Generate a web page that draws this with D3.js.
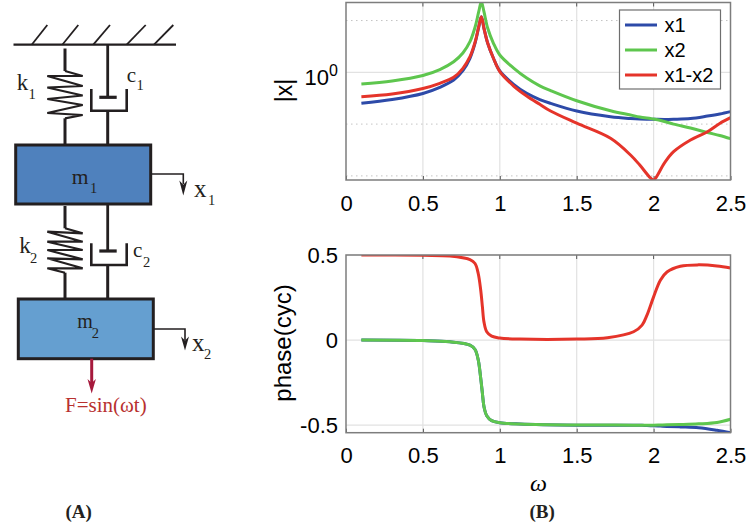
<!DOCTYPE html>
<html><head><meta charset="utf-8">
<script src="https://cdn.jsdelivr.net/npm/d3@7"></script>
<style>html,body{margin:0;padding:0;background:#fff}svg{display:block}</style>
</head><body><svg id="c" width="747" height="523"></svg>
<script>
// ---- data ----
const omegaMag = [0.1,0.3,0.5,0.61,0.7,0.76,0.806,0.84,0.863,0.88,0.897,0.921,0.958,1.0,1.09,1.175,1.26,1.33,1.5,1.72,1.85,1.91,1.98,2.0,2.07,2.13,2.24,2.35,2.43,2.5];
const magX1 = [.252,.298,.390,.513,.710,1.074,1.86,3.73,7.49,11.8,7.07,3.68,1.89,1.06,.587,.393,.298,.252,.179,.139,.128,.125,.124,.124,.123,.124,.128,.143,.157,.174];
const magX2 = [.594,.679,.867,1.13,1.60,2.36,3.90,7.59,14.8,23.1,14.8,7.16,3.68,2.16,1.21,.776,.549,.445,.283,.181,.150,.137,.128,.125,.112,.100,.084,.0688,.0603,.0523];
const magX12 = [.338,.381,.487,.613,.801,1.195,2.00,3.90,7.59,11.8,7.07,3.68,1.89,1.03,.544,.349,.241,.179,.104,.0532,.0253,.0162,.00911,.00833,.0177,.0293,.0493,.0714,.103,.133];
const omegaPhase = [0.1,0.5,0.676,0.806,0.839,0.86,0.876,0.887,0.897,0.915,0.947,1.0,1.131,1.5,1.7,1.87,1.925,1.957,2.0,2.044,2.087,2.174,2.293,2.412,2.5];
const phaseX1 = [0,-.003,-.01,-.029,-.055,-.117,-.225,-.313,-.391,-.444,-.473,-.485,-.493,-.5,-.5,-.5,-.5,-.502,-.503,-.505,-.507,-.51,-.515,-.53,-.544];
const phaseX2 = [0,-.003,-.01,-.029,-.055,-.117,-.225,-.313,-.391,-.444,-.473,-.485,-.493,-.499,-.499,-.5,-.5,-.5,-.5,-.499,-.498,-.496,-.492,-.484,-.465];
const phaseX12 = [.5,.498,.494,.473,.45,.39,.293,.195,.107,.049,.023,.012,.006,.006,.014,.049,.088,.147,.254,.352,.40,.434,.442,.436,.424];
const xTicks = [0,0.5,1,1.5,2,2.5];
const xTickLabels = ["0","0.5","1","1.5","2","2.5"];
const phaseTicks = [-0.5,0,0.5];
const phaseTickLabels = ["-0.5","0","0.5"];
const minorDecades = [0.01,0.1,10];
const seriesNames = ["x1","x2","x1-x2"];
const seriesColors = ["#2d4aa8","#5ec64e","#e5342a"];

const svg = d3.select("#c");
const SANS = "'Liberation Sans',Arial,sans-serif", SERIF = "'Liberation Serif','Times New Roman',serif";
const INK = "#231f20";

// ---- panel B ----
const x = d3.scaleLinear().domain([0,2.5]).range([346,730.5]);
const yTop = d3.scaleLog().domain([0.00833,22.3]).range([180,2.5]);
const yBot = d3.scaleLinear().domain([-0.544,0.5]).range([432.7,255]);
svg.append("defs").selectAll("clipPath").data([[yTop,"ct"],[yBot,"cb"]]).join("clipPath").attr("id",d=>d[1])
  .append("rect").attr("x",346).attr("width",385.5).attr("y",d=>d[0].range()[1]).attr("height",d=>d[0].range()[0]-d[0].range()[1]);

function panel(y, yVals, clip, omega, series){
  const g = svg.append("g");
  const [b,t] = y.range();
  g.selectAll("line.gx").data(xTicks.slice(1,-1)).join("line").attr("x1",x).attr("x2",x).attr("y1",b).attr("y2",t)
    .attr("stroke","#e2e2e2").attr("stroke-width",1.2);
  g.selectAll("line.gy").data(yVals).join("line").attr("x1",346).attr("x2",730.5).attr("y1",y).attr("y2",y)
    .attr("stroke","#e2e2e2").attr("stroke-width",1.2);
  const ax = d3.axisBottom(x).tickValues(xTicks).tickFormat((d,i)=>xTickLabels[i]).tickSize(-4).tickPadding(12);
  const gx = g.append("g").attr("transform",`translate(0,${b})`).call(ax);
  gx.select(".domain").remove();
  gx.selectAll("line").attr("stroke","#555").attr("stroke-width",1);
  gx.selectAll("text").attr("font-family",SANS).attr("font-size",22).attr("fill","#000").attr("y",13).attr("dy","0.8em");
  const gt = g.append("g");
  gt.selectAll("line").data(xTicks.slice(1,-1)).join("line").attr("x1",x).attr("x2",x).attr("y1",t).attr("y2",t+4).attr("stroke","#555");
  const line = d3.line().x((d,i)=>x(omega[i])).y(d=>y(d)).curve(d3.curveCatmullRom.alpha(0.5));
  const lg = g.append("g").attr("clip-path",`url(#${clip})`);
  lg.selectAll("path").data(series).join("path").attr("d",line).attr("fill","none")
    .attr("stroke",(d,i)=>seriesColors[i]).attr("stroke-width",3).attr("stroke-linejoin","round");
  g.append("rect").attr("x",346).attr("y",t).attr("width",384.5).attr("height",b-t).attr("fill","none")
    .attr("stroke","#7d7d7d").attr("stroke-width",1.5);
  return g;
}

const topG = panel(yTop,[1],"ct",omegaMag,[magX1,magX2,magX12]);
topG.insert("g",":nth-child(3)").selectAll("line").data(minorDecades).join("line")
  .attr("x1",346).attr("x2",730.5).attr("y1",yTop).attr("y2",yTop)
  .attr("stroke","#c4c4c4").attr("stroke-width",1).attr("stroke-dasharray","1.5 3.5");
const t10 = svg.append("text").attr("x",338).attr("y",yTop(1)+12.5).attr("text-anchor","end")
  .attr("font-family",SANS).attr("font-size",22).attr("fill","#000");
t10.append("tspan").text("10");
t10.append("tspan").text("0").attr("font-size",16).attr("dy",-9);

const botG = panel(yBot,phaseTicks,"cb",omegaPhase,[phaseX1,phaseX2,phaseX12]);
botG.append("g").selectAll("text").data(phaseTicks).join("text")
  .attr("x",338).attr("y",yBot).attr("dy",7.5).attr("text-anchor","end")
  .attr("font-family",SANS).attr("font-size",22).text((d,i)=>phaseTickLabels[i]);

function yLabel(txt,cx,cy,size){
  svg.append("text").attr("transform",`translate(${cx},${cy}) rotate(-90)`).attr("text-anchor","middle")
    .attr("font-family",SANS).attr("font-size",size).text(txt);
}
yLabel("|x|",292,90.5,23);
yLabel("phase(cyc)",291,343,24);
svg.append("text").attr("x",530).attr("y",491).attr("font-family",SERIF).attr("font-style","italic").attr("font-size",24).text("ω");

// legend
const lgd = svg.append("g");
lgd.append("rect").attr("x",619.5).attr("y",10).attr("width",101).attr("height",79).attr("fill","#fff").attr("stroke","#6e6e6e").attr("stroke-width",1.2);
const legY = d3.scalePoint().domain(seriesNames).range([25,75]);
seriesNames.forEach((n,i)=>{
  lgd.append("line").attr("x1",625).attr("x2",657).attr("y1",legY(n)).attr("y2",legY(n)).attr("stroke",seriesColors[i]).attr("stroke-width",3);
  lgd.append("text").attr("x",664.5).attr("y",legY(n)+7).attr("font-family",SANS).attr("font-size",20).text(n);
});

// ---- panel A: schematic ----
const A = svg.append("g");
const poly = (pts,w,col)=>A.append("path").attr("d",d3.line()(pts)).attr("fill","none").attr("stroke",col||INK).attr("stroke-width",w).attr("stroke-linejoin","miter");
poly([[13.5,44.7],[176,44.7]],2.2);
[[31.7,47.3],[62.3,78.3],[93.3,110],[126.7,145.7],[154,173.3]].forEach(h=>poly([[h[0],44.7],[h[1],25]],1.8));

function spring(x0,y0,tips,yLow,yEnd){
  const xr=82.7,xl=47.3;
  const pts=[[x0,tips[0]]];
  tips.slice(1).forEach((yy,i)=>pts.push([i%2===0?xr:xl,yy]));
  pts.push([x0,yLow]);
  poly(pts,2.2);
  poly([[x0,y0],[x0,tips[0]]],3);
  poly([[x0,yLow],[x0,yEnd]],3);
}
spring(65,48.5,[71,76,76,86,87.5,95.5,99,105,113,115],118.3,145);
spring(65,206,[228.3,233.3,231.7,241.7,241.7,250,250,259.3,258.3,268.3,268.3],272.7,299);

function damper(xc,yTopRod,yPiston,yCupTop,yCupBot,yEnd){
  poly([[xc,yTopRod],[xc,yPiston]],2.8);
  poly([[99.3,yPiston],[116.7,yPiston]],3.2);
  poly([[91.3,yCupTop],[91.3,yCupBot],[126.7,yCupBot],[126.7,yCupTop]],2.6);
  poly([[xc,yCupBot],[xc,yEnd]],3);
}
damper(107.7,44.7,97.3,89,110.7,145);
damper(107.7,204,251,243.3,265,299);

A.append("rect").attr("x",15.7).attr("y",145).attr("width",135).attr("height",59).attr("fill","#4f81bd").attr("stroke",INK).attr("stroke-width",3);
A.append("rect").attr("x",18.3).attr("y",299).attr("width",135).attr("height",59.7).attr("fill","#659fd0").attr("stroke",INK).attr("stroke-width",3);

function headDown(xc,y0,tip,hw,col){
  A.append("path").attr("d",d3.line()([[xc-hw,y0],[xc,y0+(tip-y0)*0.28],[xc+hw,y0],[xc,tip]])+"Z").attr("fill",col);
}
poly([[150.7,174],[183.3,174],[183.3,184]],1.6);
headDown(183.3,180.5,195.5,4,INK);
poly([[153.3,329],[185,329],[185,340]],1.6);
headDown(185,336.5,350.5,4,INK);
poly([[91.7,358.7],[91.7,384]],3,"#a6193c");
headDown(91.7,379,393.5,4.2,"#a6193c");

function sym(base,sub,xb,yb,xs,ys,size,subSize){
  A.append("text").attr("x",xb).attr("y",yb).attr("font-family",SERIF).attr("font-size",size).attr("fill",INK).text(base);
  A.append("text").attr("x",xs).attr("y",ys).attr("font-family",SERIF).attr("font-size",subSize).attr("fill",INK).text(sub);
}
sym("k","1",16.7,90,28.5,98.5,23,14.5);
sym("c","1",126.7,81.7,136.5,90,21,14.5);
sym("m","1",71.7,184,90,192.7,21.5,14.5);
sym("x","1",194,196.7,208,205,25,14.5);
sym("k","2",19.3,253,30,263,23,14.5);
sym("c","2",133,257,143,266.7,21,14.5);
sym("m","2",77.3,328.3,91.7,337.7,20,14.5);
sym("x","2",192,350.7,204,359.3,25,14.5);
A.append("text").attr("x",65).attr("y",411.7).attr("font-family",SERIF).attr("font-size",21).attr("fill","#b8312f").text("F=sin(ωt)");
A.append("text").attr("x",65.5).attr("y",517.5).attr("font-family",SERIF).attr("font-weight","bold").attr("font-size",19).attr("fill",INK).text("(A)");
svg.append("text").attr("x",529.5).attr("y",518).attr("font-family",SERIF).attr("font-weight","bold").attr("font-size",19).attr("fill",INK).text("(B)");
</script></body></html>
